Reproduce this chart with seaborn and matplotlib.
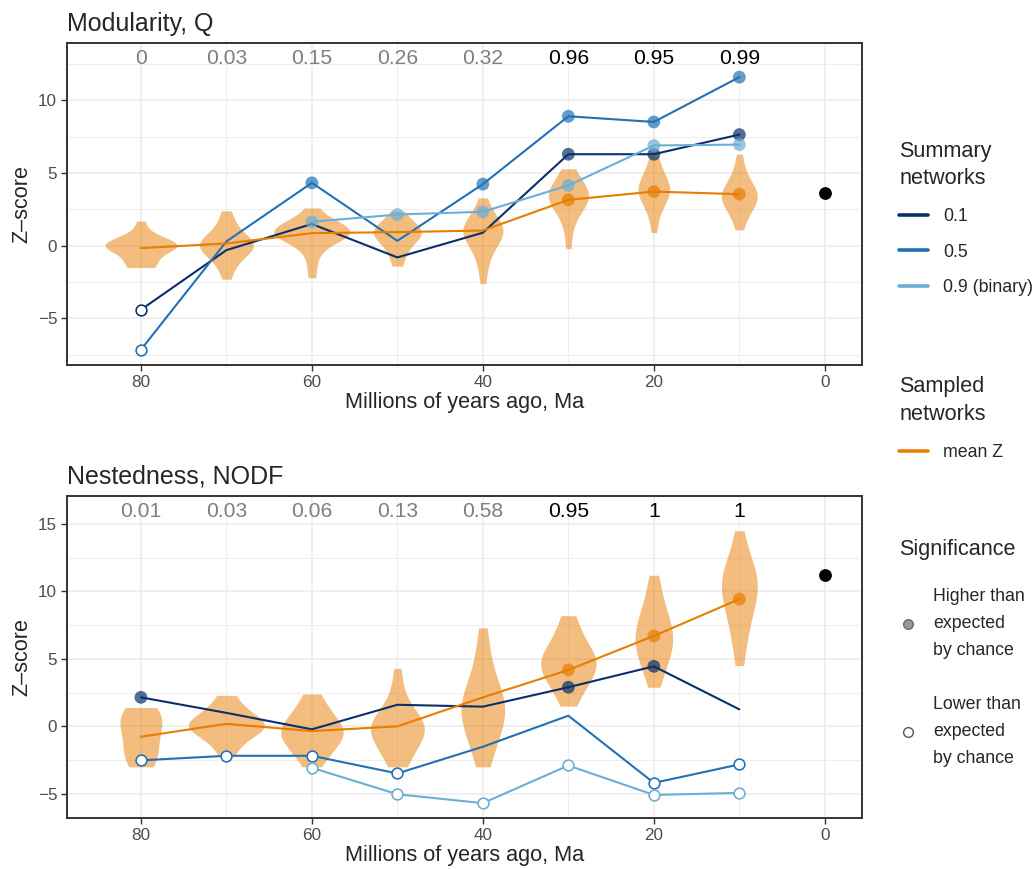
import numpy as np
import pandas as pd
import seaborn as sns
import matplotlib.pyplot as plt
from matplotlib.lines import Line2D
from matplotlib.ticker import MultipleLocator

# ages of the time slices (Ma)
ages = [80, 70, 60, 50, 40, 30, 20, 10]
series_names = ["0.1", "0.5", "0.9 (binary)", "mean Z"]

# Modularity, Q -- summary networks and mean of sampled networks
q_01 = [-4.4, -0.3, 1.5, -0.8, 0.9, 6.3, 6.3, 7.65]
q_05 = [-7.15, 0.3, 4.33, 0.34, 4.24, 8.91, 8.52, 11.6]
q_09 = [np.nan, np.nan, 1.65, 2.15, 2.34, 4.15, 6.9, 6.96]
q_mean = [-0.16, 0.16, 0.87, 0.94, 1.05, 3.16, 3.73, 3.55]
# significance: H = higher than expected, L = lower, "" = not significant
q_sig_01 = ["L", "", "", "", "", "H", "H", "H"]
q_sig_05 = ["L", "", "H", "", "H", "H", "H", "H"]
q_sig_09 = ["", "", "H", "H", "H", "H", "H", "H"]
q_sig_mean = ["", "", "", "", "", "H", "H", "H"]
q_pvals = ["0", "0.03", "0.15", "0.26", "0.32", "0.96", "0.95", "0.99"]
q_observed = 3.6

# Z-scores of sampled networks
q_v80 = [-1.5, -1.45, -1.4, -1.2, -0.9, -0.6, -0.4, -0.25, -0.15, -0.05, 0, 0.05, 0.1, 0.1, 0.15, 0.2, 0.25, 0.35, 0.6, 1.0, 1.7]
q_v70 = [-2.3, -1.6, -1.1, -0.8, -0.55, -0.35, -0.2, -0.1, 0, 0.05, 0.1, 0.2, 0.3, 0.45, 0.65, 0.9, 1.3, 1.8, 2.4]
q_v60 = [-2.2, -1.2, -0.4, 0.1, 0.4, 0.55, 0.7, 0.8, 0.85, 0.9, 0.95, 1.0, 1.05, 1.1, 1.2, 1.3, 1.45, 1.7, 2.0, 2.6]
q_v50 = [-1.4, -0.8, -0.3, 0.1, 0.4, 0.6, 0.75, 0.85, 0.95, 1.05, 1.15, 1.3, 1.5, 1.8, 2.4]
q_v40 = [-2.6, -1.5, -0.8, -0.3, 0.1, 0.4, 0.6, 0.8, 0.9, 1.0, 1.1, 1.2, 1.35, 1.5, 1.7, 2.0, 2.5, 3.3]
q_v30 = [-0.2, 1.2, 2.0, 2.5, 2.8, 3.0, 3.2, 3.3, 3.4, 3.5, 3.7, 3.9, 4.1, 4.4, 4.8, 5.3]
q_v20 = [0.9, 2.0, 2.6, 3.0, 3.3, 3.5, 3.7, 3.8, 3.9, 4.0, 4.2, 4.4, 4.7, 5.1, 5.6, 6.2]
q_v10 = [1.1, 1.9, 2.4, 2.8, 3.0, 3.2, 3.3, 3.4, 3.5, 3.7, 3.9, 4.2, 4.6, 5.2, 6.3]

# Nestedness, NODF
n_01 = [2.15, 1.0, -0.22, 1.6, 1.46, 2.9, 4.45, 1.26]
n_05 = [-2.52, -2.18, -2.18, -3.49, -1.51, 0.79, -4.19, -2.82]
n_09 = [np.nan, np.nan, -3.07, -5.03, -5.69, -2.9, -5.08, -4.93]
n_mean = [-0.77, 0.19, -0.35, 0.0, 2.15, 4.18, 6.7, 9.43]
n_sig_01 = ["H", "", "", "", "", "H", "H", ""]
n_sig_05 = ["L", "L", "L", "L", "", "", "L", "L"]
n_sig_09 = ["", "", "L", "L", "L", "L", "L", "L"]
n_sig_mean = ["", "", "", "", "", "H", "H", "H"]
n_pvals = ["0.01", "0.03", "0.06", "0.13", "0.58", "0.95", "1", "1"]
n_observed = 11.23

n_v80 = [-3.0, -2.8, -2.5, -2.2, -1.8, -1.4, -1.0, -0.6, -0.3, 0, 0.3, 0.6, 0.9, 1.1, 1.3, 1.4]
n_v70 = [-2.2, -1.4, -0.9, -0.5, -0.3, -0.1, 0, 0.1, 0.2, 0.3, 0.5, 0.8, 1.2, 1.7, 2.3]
n_v60 = [-3.0, -2.4, -1.9, -1.5, -1.2, -1.0, -0.8, -0.6, -0.4, -0.2, 0, 0.2, 0.5, 0.8, 1.2, 1.8, 2.4]
n_v50 = [-3.0, -2.6, -2.1, -1.7, -1.3, -1.0, -0.7, -0.5, -0.3, -0.1, 0.0, 0.1, 0.3, 0.5, 0.8, 1.2, 1.8, 2.8, 4.3]
n_v40 = [-3.0, -2.2, -1.5, -0.9, -0.4, 0.0, 0.4, 0.7, 1.0, 1.3, 1.5, 1.7, 2.0, 2.3, 2.7, 3.2, 3.9, 4.8, 6.0, 7.3]
n_v30 = [1.5, 2.3, 2.8, 3.2, 3.6, 3.9, 4.2, 4.4, 4.6, 4.8, 5.0, 5.2, 5.5, 5.8, 6.2, 6.8, 7.5, 8.2]
n_v20 = [2.9, 4.0, 4.6, 5.1, 5.5, 5.9, 6.2, 6.5, 6.8, 7.1, 7.5, 7.9, 8.4, 9.1, 10.0, 11.2]
n_v10 = [4.5, 6.0, 7.0, 7.8, 8.5, 9.1, 9.6, 10.0, 10.3, 10.6, 10.9, 11.2, 11.5, 12.0, 12.8, 14.5]

# violin widths (fraction of the 10 Ma slice spacing)
q_widths = [0.84, 0.63, 0.89, 0.56, 0.47, 0.47, 0.37, 0.42]
n_widths = [0.49, 0.89, 0.73, 0.63, 0.51, 0.65, 0.44, 0.42]

pal = {"0.1": "#08306B", "0.5": "#2171B5", "0.9 (binary)": "#6BAED6", "mean Z": "#E87D00"}
orange = "#E87D00"


def long_lines(vals, sigs):
    rows = []
    for name, v, s in zip(series_names, vals, sigs):
        for a, z, g in zip(ages, v, s):
            rows.append((a, z, g, name))
    return pd.DataFrame(rows, columns=["age", "z", "sig", "series"]).dropna()


def long_violins(samples):
    rows = []
    for a, vals in zip(ages, samples):
        rows += [(a, z) for z in vals]
    return pd.DataFrame(rows, columns=["age", "z"])


q_lines = long_lines([q_01, q_05, q_09, q_mean], [q_sig_01, q_sig_05, q_sig_09, q_sig_mean])
n_lines = long_lines([n_01, n_05, n_09, n_mean], [n_sig_01, n_sig_05, n_sig_09, n_sig_mean])
q_viol = long_violins([q_v80, q_v70, q_v60, q_v50, q_v40, q_v30, q_v20, q_v10])
n_viol = long_violins([n_v80, n_v70, n_v60, n_v50, n_v40, n_v30, n_v20, n_v10])

sns.set_style("white")
plt.rcParams["font.family"] = ["Liberation Sans", "DejaVu Sans"]

fig = plt.figure(figsize=(10.35, 8.69), dpi=100)
ax1 = fig.add_axes([0.0647, 0.580, 0.768, 0.3705])
ax2 = fig.add_axes([0.0647, 0.0587, 0.768, 0.3705])


def draw_panel(ax, lines, viol, widths, observed, pvals, title, label_y, ylim):
    ax.set_axisbelow(True)
    spacing = np.min(np.abs(np.diff(ages)))
    for a, w in zip(ages, widths):
        # single position -> seaborn's native width is 1 data unit
        sns.violinplot(data=viol[viol["age"] == a], x="age", y="z", native_scale=True,
                       density_norm="width", cut=0, inner=None, color=orange, saturation=1,
                       linewidth=0, alpha=0.5, width=w * spacing, bw_adjust=1.1, ax=ax)
    sns.lineplot(data=lines, x="age", y="z", hue="series", palette=pal, estimator=None,
                 sort=False, lw=1.5, legend=False, ax=ax, zorder=3)
    hi = lines[lines["sig"] == "H"]
    sns.scatterplot(data=hi, x="age", y="z", hue="series", palette=pal, s=85, alpha=0.7,
                    linewidth=0, legend=False, ax=ax, zorder=4)
    lo = lines[lines["sig"] == "L"]
    for name, grp in lo.groupby("series"):
        ax.scatter(grp["age"], grp["z"], s=60, facecolors="white", edgecolors=pal[name],
                   linewidths=1.15, zorder=4)
    sns.scatterplot(x=[0], y=[observed], color="black", s=85, linewidth=0, ax=ax, zorder=5)

    for a, p in zip(ages, pvals):
        col = "black" if float(p) >= 0.95 else "#7F7F7F"
        ax.text(a, label_y, p, ha="center", va="center", fontsize=15.2, color=col)

    ax.set_xlim(88.65, -4.33)
    ax.set_ylim(*ylim)
    ax.xaxis.set_major_locator(MultipleLocator(20))
    ax.xaxis.set_minor_locator(MultipleLocator(10))
    ax.yaxis.set_major_locator(MultipleLocator(5))
    ax.yaxis.set_minor_locator(MultipleLocator(2.5))
    ax.grid(which="major", color="#EBEBEB", lw=1.1)
    ax.grid(which="minor", color="#EBEBEB", lw=0.6)
    ax.tick_params(which="major", direction="out", length=4, width=1, color="#333333",
                   labelsize=12.3, labelcolor="#4D4D4D", bottom=True, left=True, pad=3)
    ax.tick_params(which="minor", length=0)
    for sp in ax.spines.values():
        sp.set_color("#333333")
        sp.set_linewidth(1.4)
    ax.set_xlabel("Millions of years ago, Ma", fontsize=15.6, labelpad=2)
    ax.set_ylabel("Z\u2013score", fontsize=15.6, labelpad=4)
    ax.set_title(title, loc="left", fontsize=18, pad=9)


draw_panel(ax1, q_lines, q_viol, q_widths, q_observed, q_pvals, "Modularity, Q", 12.9, (-8.2, 13.95))
draw_panel(ax2, n_lines, n_viol, n_widths, n_observed, n_pvals, "Nestedness, NODF", 15.9, (-6.79, 17.07))

# legends
leg_kw = dict(loc="upper left", frameon=False, fontsize=12.8, title_fontsize=15.6,
              alignment="left", handlelength=1.6, handletextpad=0.85, borderpad=0,
              borderaxespad=0)
summ = [Line2D([], [], color=pal[k], lw=2.6) for k in series_names[:3]]
leg1 = fig.legend(summ, series_names[:3], title="Summary\nnetworks",
                  bbox_to_anchor=(0.869, 0.838), labelspacing=1.05, **leg_kw)
leg2 = fig.legend([Line2D([], [], color=orange, lw=2.6)], ["mean Z"], title="Sampled\nnetworks",
                  bbox_to_anchor=(0.869, 0.567), labelspacing=1.1, **leg_kw)
for lg in (leg1, leg2):
    lg.get_title().set_linespacing(1.4)

fig.text(0.869, 1 - 549 / 869, "Significance", fontsize=15.6, va="center", ha="left")
sig_h = [Line2D([], [], ls="", marker="o", ms=7, markerfacecolor="#7F7F7F",
                markeredgecolor="#555555", alpha=0.8),
         Line2D([], [], ls="", marker="o", ms=7, markerfacecolor="white",
                markeredgecolor="#555555")]
leg3 = fig.legend(sig_h, ["Higher than\nexpected\nby chance", "Lower than\nexpected\nby chance"],
                  bbox_to_anchor=(0.869, 0.3235), labelspacing=2.07,
                  **{**leg_kw, "handlelength": 1.0, "handletextpad": 0.9})
for t in leg3.get_texts():
    t.set_linespacing(1.78)

fig.savefig("out.png", dpi=100)
